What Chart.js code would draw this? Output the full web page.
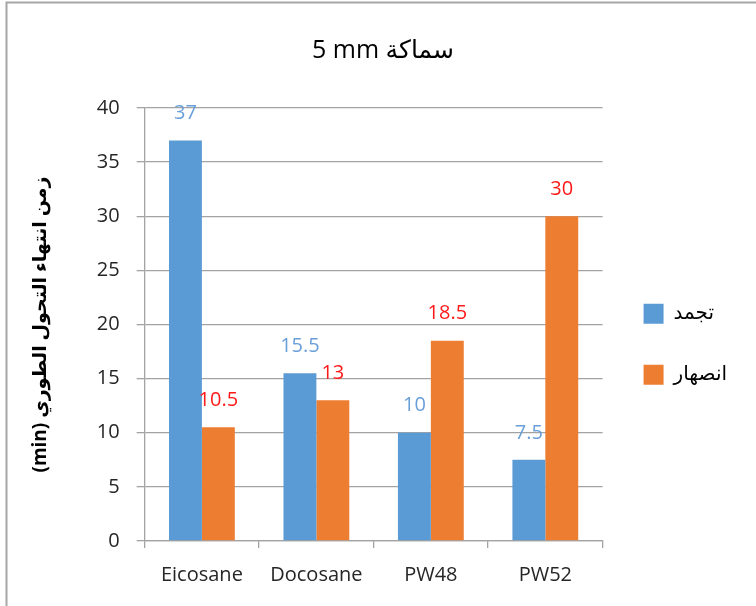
<!DOCTYPE html>
<html>
<head>
<meta charset="utf-8">
<script src="https://cdn.jsdelivr.net/npm/chart.js@4"></script>
<style>
  html, body { margin: 0; padding: 0; background: #fff; }
  #wrap { width: 756px; height: 606px; position: relative; }
</style>
</head>
<body>
<div id="wrap"><canvas id="c" width="756" height="606"></canvas></div>
<script>
// Materials tested
const categories = ['Eicosane', 'Docosane', 'PW48', 'PW52'];
// Phase-change completion time (min) for a 5 mm layer
const freezingTimes = [37, 15.5, 10, 7.5];   // تجمد
const meltingTimes = [10.5, 13, 18.5, 30];   // انصهار
const seriesNames = ['تجمد', 'انصهار'];
const titleText = '5 mm سماكة';
const yAxisTitle = '(min) زمن انتهاء التحول الطوري';

const FONT = "'Open Sans', 'DejaVu Sans', sans-serif";
const BLUE = '#5B9BD5';
const ORANGE = '#ED7D31';
const GRID = '#a3a3a3';

// Thin frame along the top and left edges
const framePlugin = {
  id: 'frame',
  beforeDraw(chart) {
    const ctx = chart.ctx;
    ctx.save();
    ctx.fillStyle = '#fff';
    ctx.fillRect(0, 0, chart.width, chart.height);
    ctx.strokeStyle = '#a6a6a6';
    ctx.lineWidth = 2;
    ctx.beginPath();
    ctx.moveTo(6.5, chart.height);
    ctx.lineTo(6.5, 2.5);
    ctx.lineTo(chart.width, 2.5);
    ctx.stroke();
    ctx.restore();
  }
};

// Value labels above each bar
const labelColors = ['#6A9FD8', '#FF1A1A'];
const valueLabelPlugin = {
  id: 'valueLabels',
  afterDatasetsDraw(chart) {
    const ctx = chart.ctx;
    ctx.save();
    ctx.font = '20px ' + FONT;
    ctx.textAlign = 'center';
    ctx.textBaseline = 'middle';
    chart.data.datasets.forEach((ds, i) => {
      const meta = chart.getDatasetMeta(i);
      ctx.fillStyle = labelColors[i];
      meta.data.forEach((el, j) => {
        ctx.fillText(String(ds.data[j]), el.x, el.y - 27);
      });
    });
    ctx.restore();
  }
};

new Chart(document.getElementById('c'), {
  type: 'bar',
  data: {
    labels: categories,
    datasets: [
      { label: seriesNames[0], data: freezingTimes, backgroundColor: BLUE },
      { label: seriesNames[1], data: meltingTimes, backgroundColor: ORANGE }
    ]
  },
  options: {
    responsive: false,
    animation: false,
    devicePixelRatio: 1,
    layout: { padding: { left: 29, right: 19, top: 0, bottom: 4 } },
    datasets: { bar: { categoryPercentage: 0.575, barPercentage: 1 } },
    plugins: {
      title: {
        display: true,
        text: titleText,
        color: '#000',
        font: { family: FONT, size: 25, weight: 'normal' },
        padding: { top: 36, bottom: 42 }
      },
      legend: {
        position: 'right',
        align: 'center',
        title: {
          display: true,
          text: ' ',
          color: 'rgba(0,0,0,0)',
          padding: { top: 0, bottom: 72 }
        },
        labels: {
          boxWidth: 20,
          boxHeight: 20,
          padding: 41,
          color: '#000',
          font: { family: FONT, size: 20 }
        }
      },
      tooltip: { enabled: false }
    },
    scales: {
      x: {
        grid: { display: true, drawOnChartArea: false, offset: true, tickLength: 7, color: GRID, lineWidth: 1.3 },
        border: { color: GRID, width: 1.3 },
        ticks: { color: '#262626', font: { family: FONT, size: 20 }, padding: 15 }
      },
      y: {
        min: 0,
        max: 40,
        ticks: { stepSize: 5, color: '#262626', font: { family: FONT, size: 20 }, padding: 17 },
        grid: { color: GRID, lineWidth: 1.3, tickLength: 8 },
        border: { color: GRID, width: 1.3 },
        title: {
          display: true,
          text: yAxisTitle,
          color: '#000',
          font: { family: FONT, size: 19, weight: 'bold' },
          padding: { top: 0, bottom: 28 }
        }
      }
    }
  },
  plugins: [framePlugin, valueLabelPlugin]
});
</script>
</body>
</html>
